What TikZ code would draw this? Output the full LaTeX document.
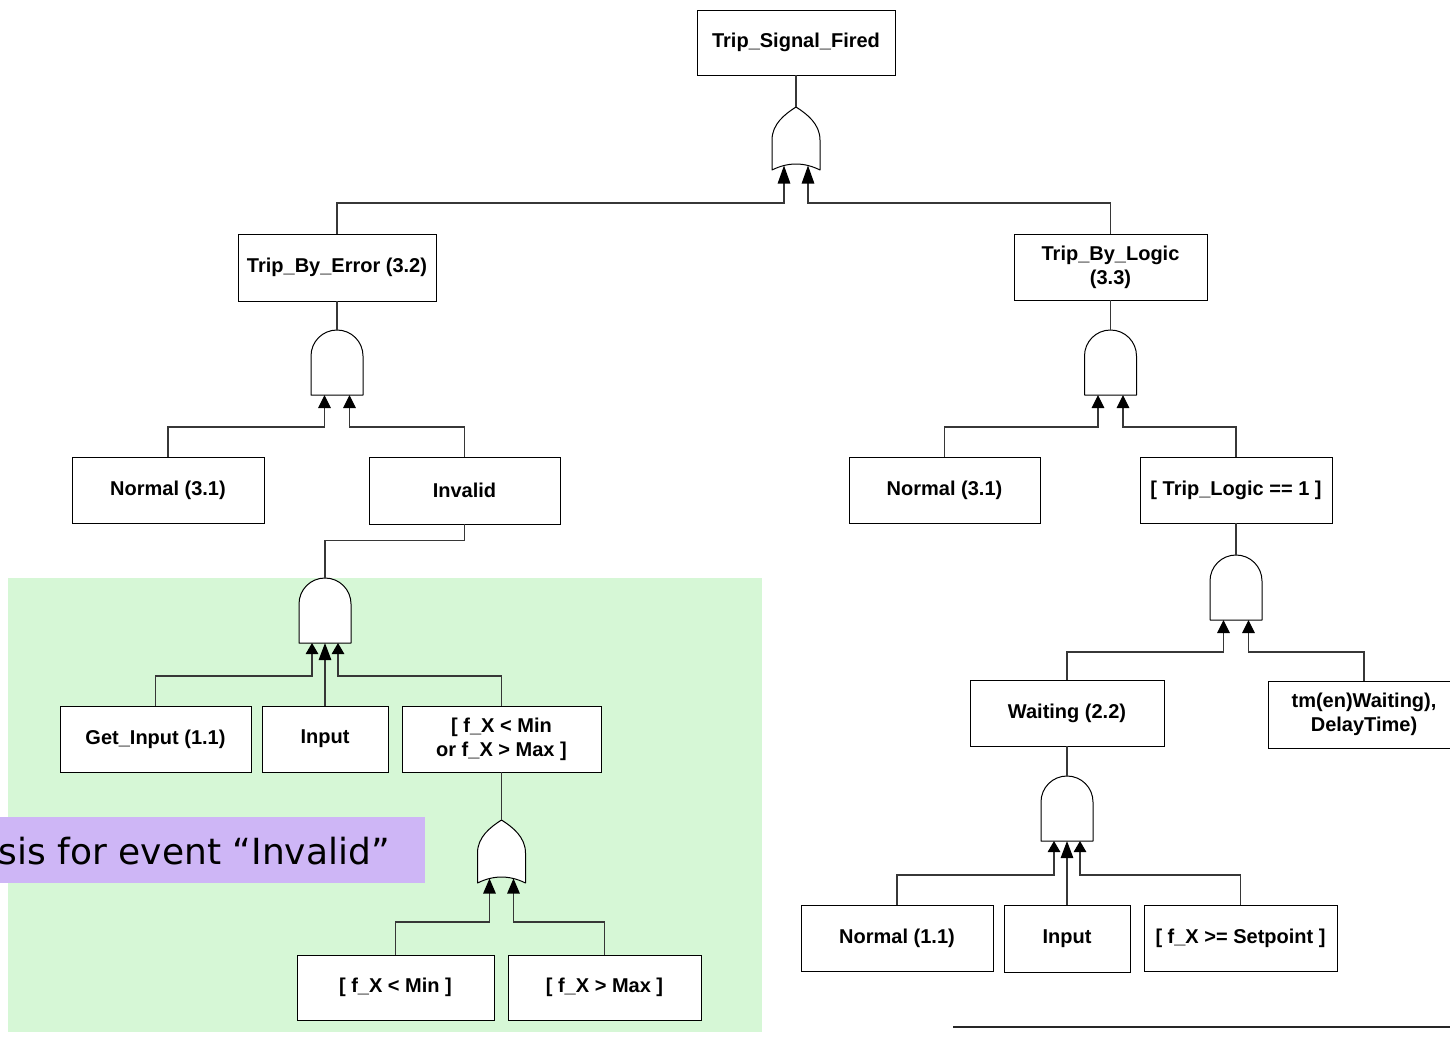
\documentclass[tikz,border=0pt]{standalone}
\usepackage{fontspec}
\setmainfont{Liberation Sans}
\newfontfamily\notefont{DejaVu Sans}
\usetikzlibrary{arrows.meta}
\definecolor{zonegreen}{RGB}{214,247,214}
\definecolor{notepurple}{RGB}{206,182,246}
\definecolor{wirecol}{RGB}{55,55,55}
\begin{document}
\begin{tikzpicture}[x=1pt,y=-1pt,
  event/.style={draw=black, line width=0.95pt, fill=white, inner sep=0pt, align=center,
                font=\fontsize{20}{24}\selectfont\bfseries},
  gateline/.style={draw=black, line width=1pt, fill=white, line join=round},
  wire/.style={draw=wirecol, line width=1.2pt},
  into/.style={wire, -{Triangle[width=12.5pt,length=#1,color=black]}},
  into/.default=13pt,
  andgate/.pic={
    \path[gateline] (-26,0) -- (-26,-39)
      .. controls (-26,-53.4) and (-14.4,-65) .. (0,-65)
      .. controls (14.4,-65) and (26,-53.4) .. (26,-39) -- (26,0) -- cycle;
    \coordinate (-top) at (0,-65);
    \coordinate (-a) at (-12.5,0);
    \coordinate (-b) at (12.5,0);
  },
  andthree/.pic={
    \path[gateline] (-26,0) -- (-26,-39)
      .. controls (-26,-53.4) and (-14.4,-65) .. (0,-65)
      .. controls (14.4,-65) and (26,-53.4) .. (26,-39) -- (26,0) -- cycle;
    \coordinate (-top) at (0,-65);
    \coordinate (-a) at (-13,0);
    \coordinate (-b) at (0,0);
    \coordinate (-c) at (13,0);
  },
  orgate/.pic={
    \path[gateline] (-24,0) -- (-24,-30)
      .. controls (-24,-46) and (-11,-56) .. (0,-63)
      .. controls (11,-56) and (24,-46) .. (24,-30) -- (24,0)
      .. controls (8,-8) and (-8,-8) .. (-24,0) -- cycle;
    \coordinate (-top) at (0,-63);
    \coordinate (-a) at (-12,-4.5);
    \coordinate (-b) at (12,-4.5);
  }]

\useasboundingbox (0,0) rectangle (1450,1037);
\fill[white] (0,0) rectangle (1450,1037);

% shaded sub-tree area and its caption band
\fill[zonegreen] (8,578) rectangle (762,1032);
\fill[notepurple] (0,817) rectangle (425,883);
\node[anchor=base east, inner sep=0pt, font=\notefont\fontsize{36}{40}\selectfont] (note)
  at (390,864) {sis for event “Invalid”};

% rule at the foot of the page
\draw[line width=2pt, draw=black!85] (953,1027) -- (1450,1027);

% events
\node[event, minimum width=198, minimum height=65] (tsf)  at (796,42.5)    {Trip\_Signal\_Fired};
\node[event, minimum width=198, minimum height=67] (tbe)  at (337,267.5)   {Trip\_By\_Error (3.2)};
\node[event, minimum width=193, minimum height=66] (tbl)  at (1110.5,267)  {Trip\_By\_Logic\\(3.3)};
\node[event, minimum width=192, minimum height=66] (nla)  at (168,490)     {Normal (3.1)};
\node[event, minimum width=191, minimum height=67] (inv)  at (464.5,490.5) {Invalid};
\node[event, minimum width=191, minimum height=66] (nlb)  at (944.5,490)   {Normal (3.1)};
\node[event, minimum width=192, minimum height=66] (tlg)  at (1236,490)    {[ Trip\_Logic == 1 ]};
\node[event, minimum width=191, minimum height=66] (gin)  at (155.5,739)   {Get\_Input (1.1)};
\node[event, minimum width=126, minimum height=66] (inpa) at (325,739)     {Input};
\node[event, minimum width=199, minimum height=66] (fx)   at (501.5,739)   {[ f\_X < Min\\or f\_X > Max ]};
\node[event, minimum width=197, minimum height=65] (fmin) at (395.5,987.5) {[ f\_X < Min ]};
\node[event, minimum width=193, minimum height=65] (fmax) at (604.5,987.5) {[ f\_X > Max ]};
\node[event, minimum width=194, minimum height=66] (wait) at (1067,713)    {Waiting (2.2)};
\node[event, minimum width=192, minimum height=67] (tm)   at (1364,714.5)  {tm(en)Waiting),\\DelayTime)};
\node[event, minimum width=192, minimum height=66] (nlc)  at (897,938)     {Normal (1.1)};
\node[event, minimum width=126, minimum height=67] (inpb) at (1067,938.5)  {Input};
\node[event, minimum width=193, minimum height=66] (fsp)  at (1240.5,938)  {[ f\_X >= Setpoint ]};

% gates
\pic (g1) at (796,170)    {orgate};
\pic (g2) at (337,395)    {andgate};
\pic (g3) at (1110.5,395) {andgate};
\pic (g4) at (325,643)    {andthree};
\pic (g5) at (501.5,883)  {orgate};
\pic (g6) at (1236,620)   {andgate};
\pic (g7) at (1067,841)   {andthree};

% outputs into parent events
\draw[wire] (tsf.south)  -- (g1-top);
\draw[wire] (tbe.south)  -- (g2-top);
\draw[wire] (tbl.south)  -- (g3-top);
\draw[wire] (inv.south)  -- ++(0,16) -| (g4-top);
\draw[wire] (fx.south)   -- (g5-top);
\draw[wire] (tlg.south)  -- (g6-top);
\draw[wire] (wait.south) -- (g7-top);

% inputs into gates
\draw[into=18pt] (tbe.north) |- ([yshift=-37.5pt]g1-a) -- (g1-a);
\draw[into=18pt] (tbl.north) |- ([yshift=-37.5pt]g1-b) -- (g1-b);

\draw[into] (nla.north) |- ([yshift=-32pt]g2-a) -- (g2-a);
\draw[into] (inv.north) |- ([yshift=-32pt]g2-b) -- (g2-b);

\draw[into] (nlb.north) |- ([yshift=-32pt]g3-a) -- (g3-a);
\draw[into] (tlg.north) |- ([yshift=-32pt]g3-b) -- (g3-b);

\draw[into=11pt] (gin.north) |- ([yshift=-33pt]g4-a) -- (g4-a);
\draw[into=17pt] (inpa.north) -- (g4-b);
\draw[into=11pt] (fx.north)  |- ([yshift=-33pt]g4-c) -- (g4-c);

\draw[into=15pt] (fmin.north) |- ([yshift=-43.5pt]g5-a) -- (g5-a);
\draw[into=15pt] (fmax.north) |- ([yshift=-43.5pt]g5-b) -- (g5-b);

\draw[into] (wait.north) |- ([yshift=-32pt]g6-a) -- (g6-a);
\draw[into] (tm.north)   |- ([yshift=-32pt]g6-b) -- (g6-b);

\draw[into=11pt] (nlc.north)  |- ([yshift=-34pt]g7-a) -- (g7-a);
\draw[into=17pt] (inpb.north) -- (g7-b);
\draw[into=11pt] (fsp.north)  |- ([yshift=-34pt]g7-c) -- (g7-c);
\end{tikzpicture}
\end{document}
